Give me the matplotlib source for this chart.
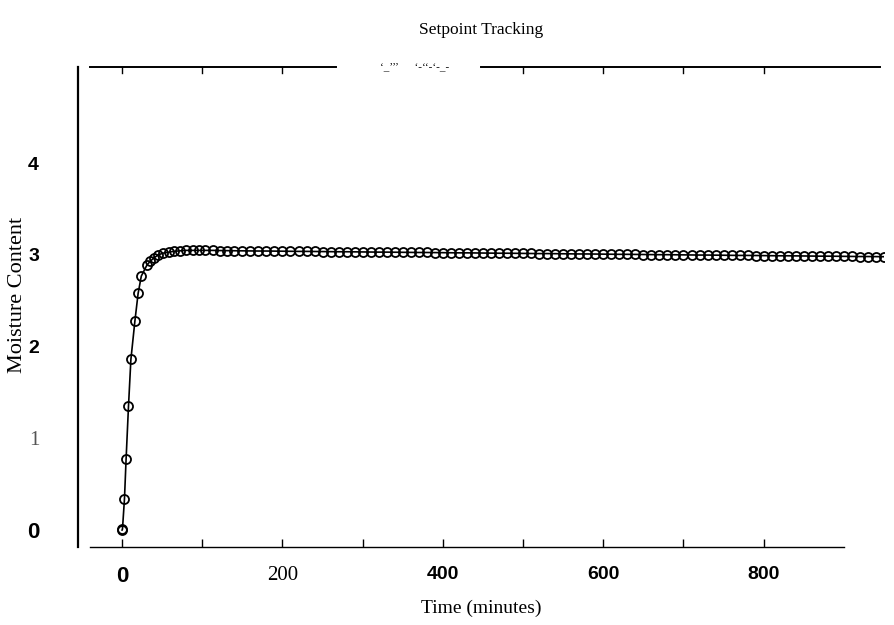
import matplotlib
matplotlib.use("Agg")
import matplotlib.pyplot as plt

# sample times (minutes) and moisture content
time_min = [
    0, 0.5, 3, 5, 8, 11, 16, 20, 24, 31, 35, 40, 45, 51, 58, 65, 72, 80, 88,
    96, 104, 113, 122, 131, 140,
    150, 160, 170, 180, 190, 200, 210, 220, 230, 240, 250, 260, 270, 280,
    290, 300, 310, 320, 330, 340, 350, 360, 370, 380, 390, 400, 410, 420,
    430, 440, 450, 460, 470, 480, 490, 500, 510, 520, 530, 540, 550, 560,
    570, 580, 590, 600, 610, 620, 630, 640, 650, 660, 670, 680, 690, 700,
    710, 720, 730, 740, 750, 760, 770, 780, 790, 800, 810, 820, 830, 840,
    850, 860, 870, 880, 890, 900, 910, 920, 930, 940, 950,
]
moisture = [
    0.0, 0.01, 0.34, 0.77, 1.35, 1.86, 2.28, 2.58, 2.77, 2.89, 2.93, 2.97,
    3.00, 3.02, 3.03, 3.04, 3.045, 3.05, 3.05, 3.05, 3.05, 3.05, 3.048,
    3.047, 3.046,
    3.045, 3.044, 3.043, 3.043, 3.042, 3.041, 3.040, 3.039, 3.039, 3.038,
    3.037, 3.036, 3.035, 3.035, 3.034, 3.033, 3.032, 3.031, 3.031, 3.030,
    3.029, 3.028, 3.027, 3.027, 3.026, 3.025, 3.024, 3.023, 3.023, 3.022,
    3.021, 3.020, 3.019, 3.019, 3.018, 3.017, 3.016, 3.015, 3.015, 3.014,
    3.013, 3.012, 3.011, 3.011, 3.010, 3.009, 3.008, 3.007, 3.007, 3.006,
    3.005, 3.004, 3.003, 3.003, 3.002, 3.001, 3.000, 2.999, 2.999, 2.998,
    2.997, 2.996, 2.995, 2.995, 2.994, 2.993, 2.992, 2.991, 2.991, 2.990,
    2.989, 2.988, 2.987, 2.987, 2.986, 2.985, 2.984, 2.983, 2.983, 2.982,
    2.981,
]

x_ticks = [0, 200, 400, 600, 800]
x_tick_labels = ["0", "200", "400", "600", "800"]
y_ticks = [0, 1, 2, 3, 4]
y_tick_labels = ["0", "1", "2", "3", "4"]
minor_x = [100, 300, 500, 700, 800]
top_ticks = [0, 100, 200, 500, 600, 700, 800]

serif = ["Liberation Serif", "DejaVu Serif"]
narrow = ["Liberation Sans Narrow", "Liberation Sans", "DejaVu Sans"]

fig = plt.figure(figsize=(8.94, 6.25), dpi=100)
ax = fig.add_axes([0.0872, 0.1248, 0.9016, 0.768])

ax.plot(time_min, moisture, color="black", linewidth=1.2,
        marker="o", markersize=6.5, markerfacecolor="none",
        markeredgecolor="black", markeredgewidth=1.3)

ax.set_xlim(-55, 950)
ax.set_ylim(-0.185, 5.05)

# spines: left full, bottom/top drawn with gaps like the scan
ax.spines["right"].set_visible(False)
ax.spines["top"].set_visible(False)
ax.spines["left"].set_linewidth(1.6)
ax.spines["bottom"].set_bounds(-40, 900)
ax.spines["bottom"].set_linewidth(1.0)
ax.axhline(5.05, xmin=0.015, xmax=0.32, color="black", lw=1.4, clip_on=False)
ax.axhline(5.05, xmin=0.50, xmax=0.995, color="black", lw=1.4, clip_on=False)
ax.text(0.375, 1.0, "\u2018_\u2019\u2019\u2019      \u2018-\u2018\u2018-\u2018-_-",
        transform=ax.transAxes, ha="left", va="center", fontsize=8,
        family=serif)

for t in top_ticks:
    ax.plot([t, t], [5.05, 4.98], color="black", lw=1.0, clip_on=False)

ax.set_xticks(x_ticks)
ax.set_xticklabels(x_tick_labels)
ax.set_xticks(minor_x, minor=True)
ax.tick_params(axis="x", which="both", direction="in", length=6, width=1.0,
               pad=14)
ax.set_yticks(y_ticks)
ax.set_yticklabels(y_tick_labels)
ax.tick_params(axis="y", length=0, pad=28)

for lbl in ax.get_xticklabels() + ax.get_yticklabels():
    if lbl.get_text() in ("200", "1"):
        lbl.set_family(serif)
        lbl.set_fontsize(15)
        if lbl.get_text() == "1":
            lbl.set_color("#555555")
    else:
        lbl.set_family(narrow)
        lbl.set_fontweight("bold")
        lbl.set_fontsize(14)
        if lbl.get_text() == "0":
            lbl.set_fontsize(16)

ax.set_title("Setpoint Tracking", family=serif, fontsize=12.5, pad=24)
ax.set_xlabel("Time (minutes)", family=serif, fontsize=14, labelpad=9)
ax.set_ylabel("Moisture Content", family=serif, fontsize=16)
ax.yaxis.set_label_coords(-0.063, 0.525)

fig.savefig("out.png", dpi=100)
